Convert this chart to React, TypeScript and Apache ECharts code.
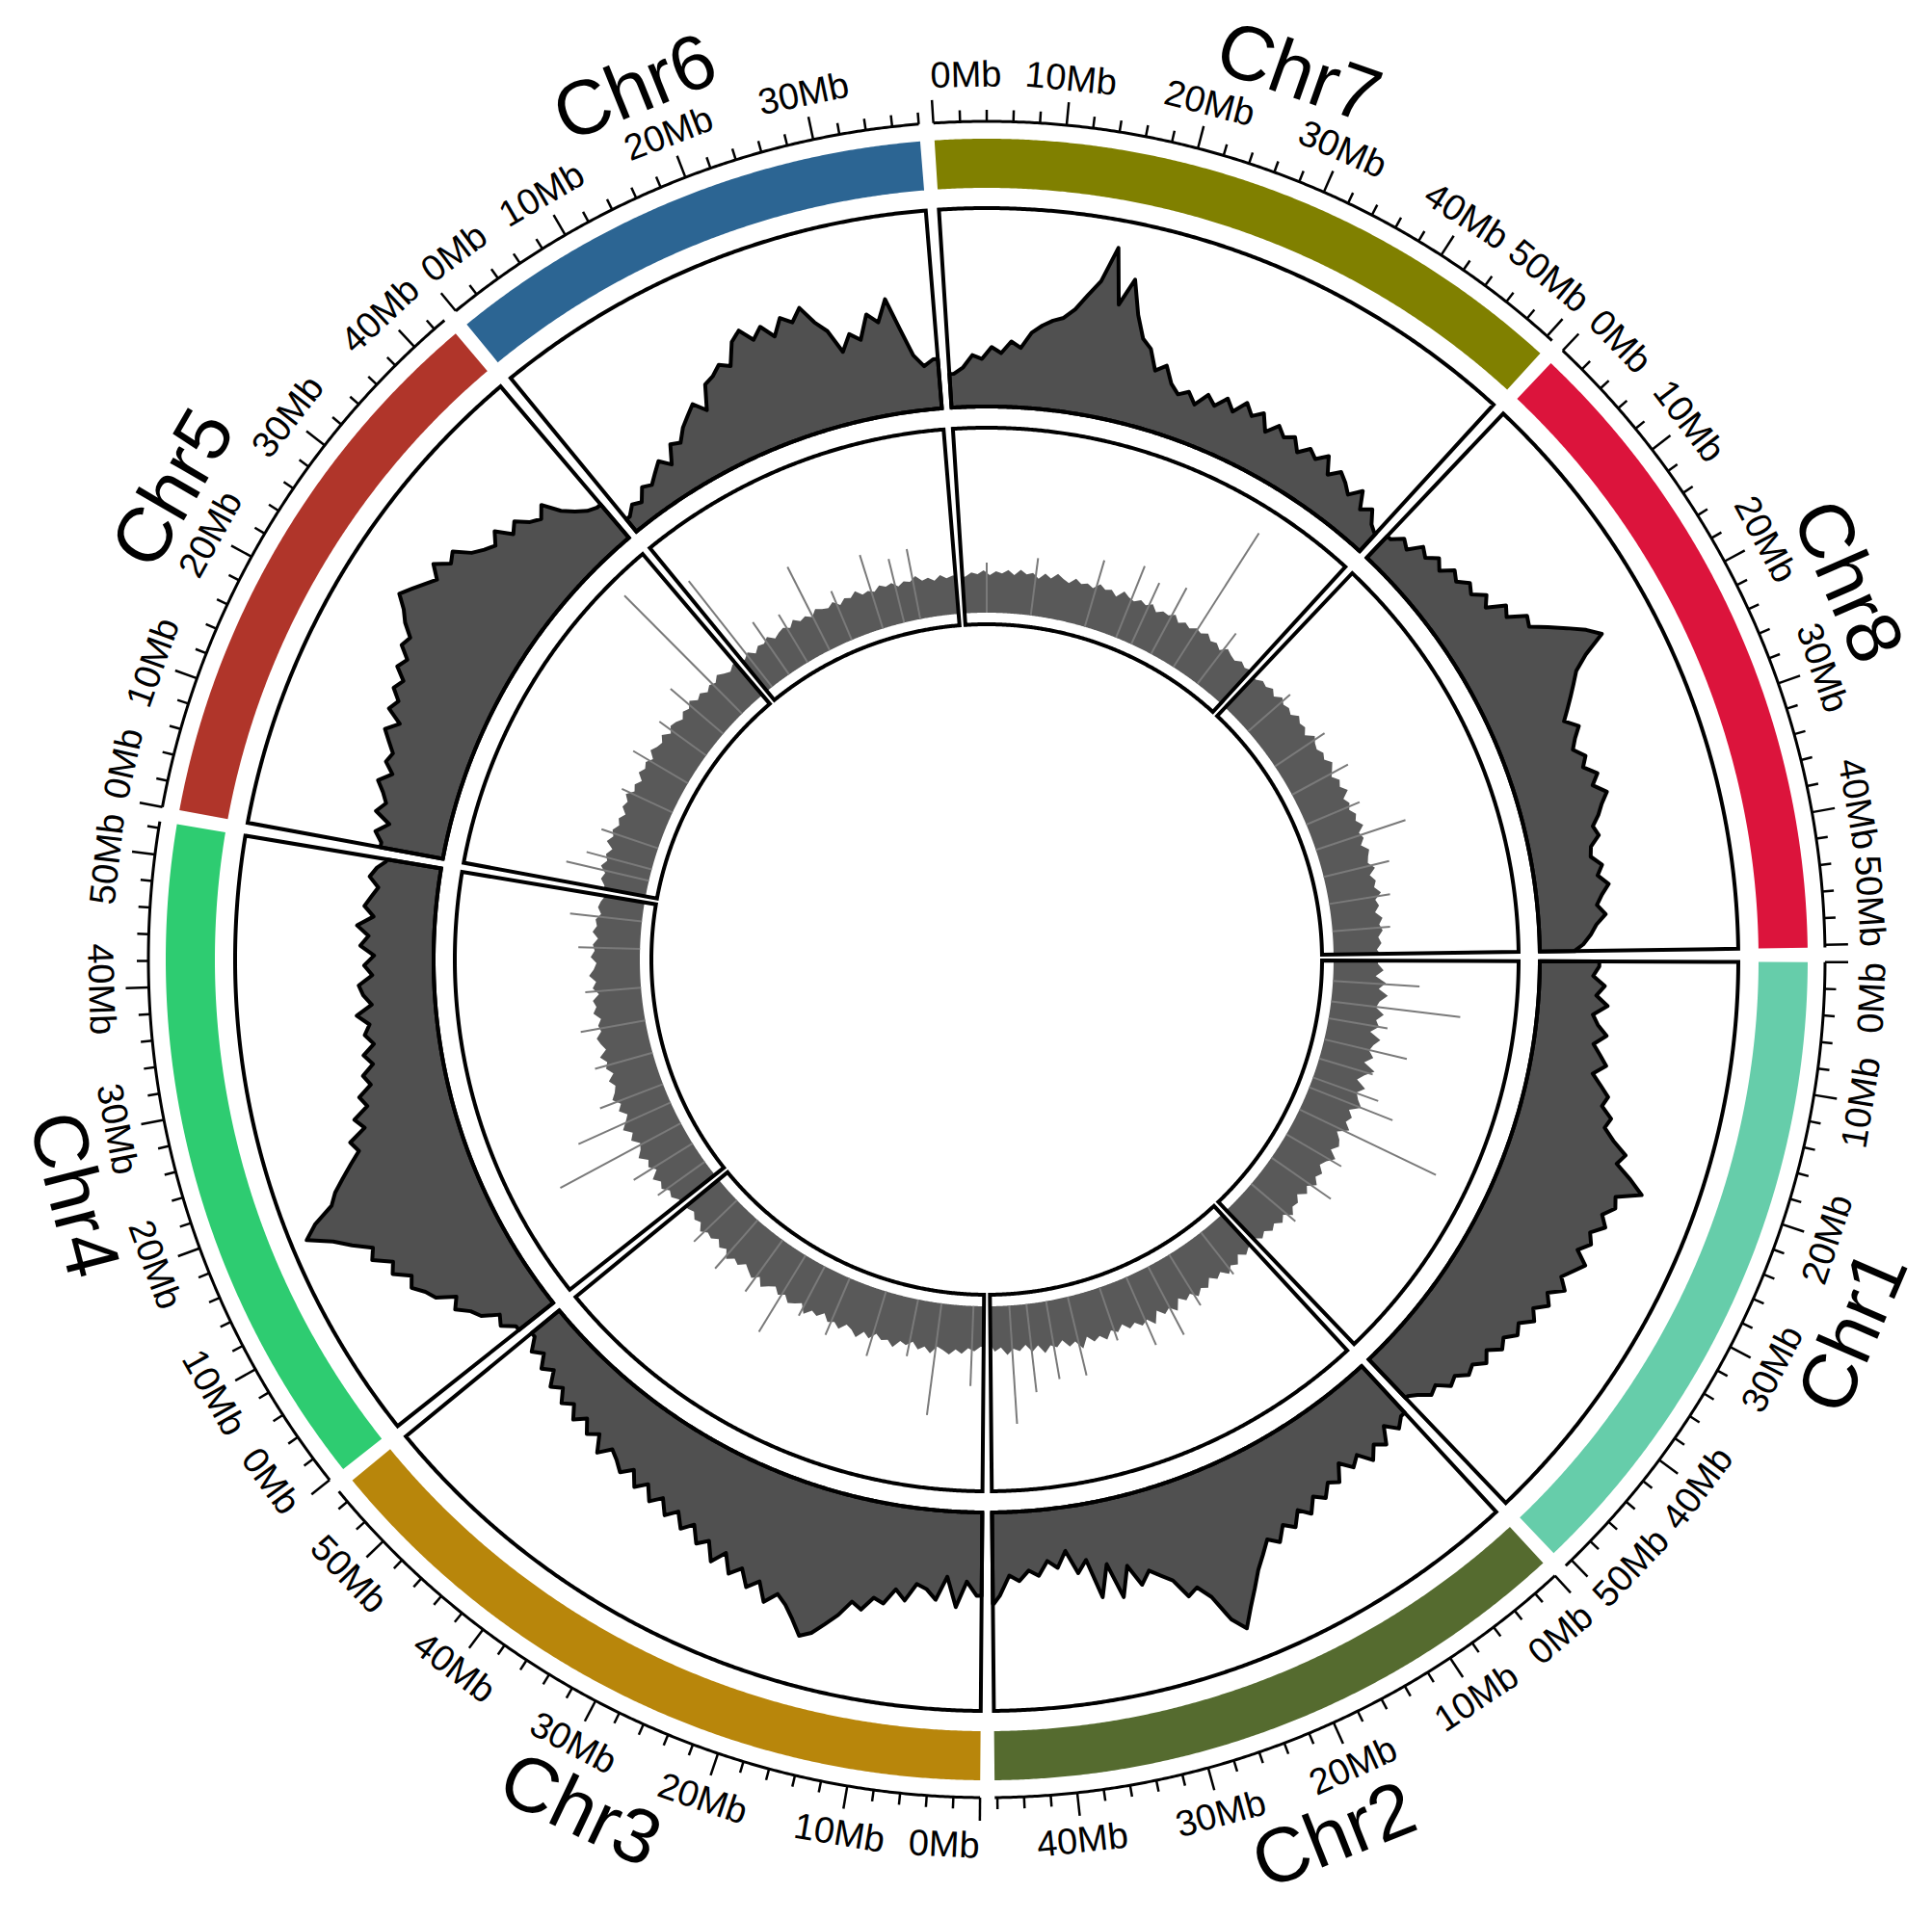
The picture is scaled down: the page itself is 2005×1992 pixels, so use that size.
import React, { useEffect, useRef } from "react";
import * as echarts from "echarts";

// ---------------- data ----------------
const CHR_NAMES = ["Chr1", "Chr2", "Chr3", "Chr4", "Chr5", "Chr6", "Chr7", "Chr8"];
const CHR_LENGTHS_MB = [50.6, 46.2, 55.0, 52.5, 43.0, 38.0, 50.5, 50.2];
const CHR_COLORS = ["#66CDAA", "#556B2F", "#B8860B", "#2ECC71", "#B0352A", "#2C6593", "#808000", "#DC143C"];

// outer track: density per 1 Mb bin (0-100)
const AREA_CHR1 = [30,27,33,29,35,28,31,36,30,34,38,32,37,42,40,46,44,50,58,55,64,72,60,62,57,61,55,58,53,60,56,52,57,50,54,48,52,46,49,44,47,41,45,40,42,37,39,33,35,30,27];
const AREA_CHR2 = [32,36,30,38,34,40,33,37,31,39,36,42,38,45,40,47,43,50,46,52,58,66,74,83,76,62,55,58,48,44,40,46,35,50,32,48,28,34,22,30,26,33,30,35,32,42,46];
const AREA_CHR3 = [42,35,48,33,45,40,38,47,42,50,48,55,52,60,66,72,75,68,62,58,64,55,60,52,57,48,55,46,50,42,47,40,45,38,43,36,41,34,39,35,32,38,30,34,28,33,27,31,25,29,22,26,20,24,18];
const AREA_CHR4 = [22,28,25,33,36,42,38,47,50,55,52,60,57,66,63,72,80,92,85,74,70,64,58,52,55,46,50,42,45,38,41,35,39,33,37,34,40,32,36,38,31,35,30,37,33,39,31,36,33,30,35,32,28];
const AREA_CHR5 = [32,36,30,38,34,37,41,35,40,38,42,46,40,48,45,50,47,53,50,56,54,60,64,70,66,62,58,64,57,60,52,48,45,50,42,46,40,37,42,33,28,24,22];
const AREA_CHR6 = [8,12,10,16,14,18,22,17,26,24,30,34,38,32,44,46,50,47,58,62,55,60,53,61,57,63,54,48,36,44,40,52,47,58,42,28,22,25];
const AREA_CHR7 = [17,20,26,24,30,27,33,30,38,42,45,47,52,60,68,86,58,72,55,44,40,30,34,26,22,25,20,27,23,29,24,31,26,30,22,28,24,27,21,26,23,28,20,25,22,18,24,16,20,14,12];
const AREA_CHR8 = [15,20,17,24,21,26,22,28,25,30,27,33,29,38,35,44,42,50,58,66,72,60,52,48,44,40,36,42,38,35,40,37,43,39,45,41,38,34,36,31,30,35,32,37,33,30,34,29,26,22,18];
const AREA_TRACK = [AREA_CHR1, AREA_CHR2, AREA_CHR3, AREA_CHR4, AREA_CHR5, AREA_CHR6, AREA_CHR7, AREA_CHR8];

// inner track: histogram per 1 Mb bin
const HIST_CHR1 = [46,52,44,55,48,58,50,47,56,49,53,45,57,51,48,54,46,59,50,44,55,48,52,58,47,53,49,56,45,51,54,48,57,50,46,53,49,55,47,52,44,50,48,54,46,51,45,49,43,47,42];
const HIST_CHR2 = [44,48,42,50,46,52,45,49,43,51,47,53,46,50,44,55,48,52,45,57,49,53,47,51,44,50,46,54,48,52,45,56,47,51,43,49,46,53,44,50,42,48,45,51,43,47,41];
const HIST_CHR3 = [42,47,44,50,46,52,48,45,53,47,51,44,49,46,54,48,50,45,52,47,55,49,46,53,48,51,44,50,47,54,45,49,52,46,50,44,48,53,45,51,47,43,49,46,52,44,48,42,47,45,50,43,46,41,44];
const HIST_CHR4 = [45,50,47,53,49,55,46,52,48,56,50,47,54,49,57,51,46,53,48,55,50,47,52,45,51,48,54,46,50,53,47,49,45,52,48,51,44,50,46,53,48,45,51,47,49,44,50,46,48,43,47,45,42];
const HIST_CHR5 = [44,49,46,52,47,50,45,53,48,51,46,49,44,50,47,52,45,48,43,50,46,49,44,51,47,45,50,43,48,46,42,47,44,49,43,46,41,45,42,47,43,40,44];
const HIST_CHR6 = [40,44,38,43,41,45,39,42,44,40,46,41,43,39,45,42,40,44,38,43,41,46,40,42,39,44,41,43,38,42,40,45,39,41,37,42,38,40];
const HIST_CHR7 = [38,42,40,44,39,43,41,45,40,46,42,44,39,45,41,47,43,40,46,42,44,41,47,43,45,40,48,44,42,46,43,47,41,45,44,48,42,46,43,47,45,49,44,46,42,48,45,43,47,44,46];
const HIST_CHR8 = [43,47,45,49,44,50,46,48,45,51,47,49,44,52,48,46,50,47,53,49,45,51,48,54,46,50,47,52,49,55,48,51,46,53,50,48,54,47,52,49,55,48,51,46,53,49,52,47,50,45,48];
const HIST_TRACK = [HIST_CHR1, HIST_CHR2, HIST_CHR3, HIST_CHR4, HIST_CHR5, HIST_CHR6, HIST_CHR7, HIST_CHR8];

// tall single bins of the inner histogram
const SPIKE_CHR = [0,0,0,0,0,0,0,0,0,0,0, 1,1,1,1,1,1,1,1,1, 2,2,2,2,2,2,2,2,2,2, 3,3,3,3,3,3,3,3,3,3, 4,4,4,4,4,4,4,4, 5,5,5,5,5,5,5,5, 6,6,6,6,6,6,6,6, 7,7,7,7,7,7,7,7];
const SPIKE_POS = [3.7,7.4,10.5,14.4,18,21.6,23.5,27.9,33,38,44, 5,12,16.4,20.8,26,32,36,39.6,42.7, 1.9,7.7,12,18,25,30,34,39,44.8,50, 3,7,11.2,15.4,19,25,31,37,44,49, 2.9,5,9,16,22,28,33,38, 1.2,5,9,13.6,18,24,28,31, 4,12,22,28,31,35,39.7,45, 6,14,20,26,30.9,36,41,46];
const SPIKE_VAL = [90,135,62,88,58,72,93,157,66,75,60, 55,62,80,77,58,84,82,92,123, 83,117,60,70,64,58,93,66,67,62, 60,72,142,105,70,62,68,58,64,75, 88,70,62,58,66,60,72,173, 140,66,58,97,55,80,68,74, 52,60,72,80,70,78,165,66, 58,62,66,60,98,70,64,60];

const TICK_STEP_MB = 2;
const TICK_LABEL_STEP_MB = 10;

// ---------------- layout ----------------
const GAP_MB = 1.1;
const FIRST_OFFSET_MB = 0.2;
const CX = 1024;
const CY = 996;
const R_HIST_BOX = [348, 552];
const R_AREA = [574, 780];
const R_BAND = [801, 852];
const R_AXIS = 870;
const R_TICKLABEL = 919;
const R_CHRLABEL = 977;
const TICK_FONT = 38;
const CHR_FONT = 80;
const FONT = "'Liberation Sans', Arial, Helvetica, sans-serif";

const STARTS: number[] = [];
{
  let acc = FIRST_OFFSET_MB;
  CHR_LENGTHS_MB.forEach((L) => {
    STARTS.push(acc);
    acc += L + GAP_MB;
  });
}
const TOTAL = CHR_LENGTHS_MB.reduce((a, b) => a + b, 0) + GAP_MB * CHR_LENGTHS_MB.length;
const RAD_PER_MB = (2 * Math.PI) / TOTAL;

const arc = (api: any, r: number, p0: number, p1: number) => {
  const n = Math.max(2, Math.ceil(Math.abs(p1 - p0) / 0.2));
  const pts: number[][] = [];
  for (let k = 0; k <= n; k++) pts.push(api.coord([r, p0 + ((p1 - p0) * k) / n]));
  return pts;
};

const charEm = (c: string) => (c === "M" ? 0.833 : 0.556);
const textWidth = (t: string, fs: number) => t.split("").reduce((a, c) => a + charEm(c), 0) * fs;

const textEl = (x: number, y: number, cx: number, cy: number, text: string, fs: number) => {
  const a = Math.atan2(y - cy, x - cx);
  const upper = y < cy;
  const dir = upper ? a + Math.PI / 2 : a - Math.PI / 2;
  return {
    type: "text",
    x,
    y,
    rotation: -dir,
    style: { text, fontSize: fs, fontFamily: FONT, fill: "#000", align: "center", verticalAlign: "middle" },
  };
};

const chrData = CHR_NAMES.map((_, i) => [0, STARTS[i]]);

const binCenter = (j: number, L: number) => (j + Math.min(j + 1, L)) / 2;

function buildOption() {
  const base = { type: "custom", silent: true, animation: false, clip: false };

  const bands = {
    ...base,
    coordinateSystem: "polar",
    polarIndex: 2,
    data: chrData,
    renderItem: (params: any, api: any) => {
      const i = params.dataIndex;
      const s = STARTS[i];
      const e = s + CHR_LENGTHS_MB[i];
      const pts = arc(api, R_BAND[1], s, e).concat(arc(api, R_BAND[0], s, e).reverse());
      return { type: "polygon", shape: { points: pts }, style: { fill: CHR_COLORS[i], stroke: null } };
    },
  };

  const area = {
    ...base,
    coordinateSystem: "polar",
    polarIndex: 0,
    data: chrData,
    renderItem: (params: any, api: any) => {
      const i = params.dataIndex;
      const s = STARTS[i];
      const L = CHR_LENGTHS_MB[i];
      const vals = AREA_TRACK[i];
      const top: number[][] = [api.coord([0, s]), api.coord([vals[0], s])];
      vals.forEach((v, j) => top.push(api.coord([v, s + binCenter(j, L)])));
      top.push(api.coord([vals[vals.length - 1], s + L]));
      top.push(api.coord([0, s + L]));
      const pts = top.concat(arc(api, 0, s, s + L).reverse());
      return {
        type: "polygon",
        shape: { points: pts },
        style: { fill: "#505050", stroke: "#000", lineWidth: 4, lineJoin: "round" },
      };
    },
  };

  const hist = {
    ...base,
    coordinateSystem: "polar",
    polarIndex: 1,
    data: chrData,
    renderItem: (params: any, api: any) => {
      const i = params.dataIndex;
      const s = STARTS[i];
      const L = CHR_LENGTHS_MB[i];
      const vals = HIST_TRACK[i];
      const top: number[][] = [api.coord([0, s]), api.coord([vals[0], s])];
      vals.forEach((v, j) => top.push(api.coord([v, s + binCenter(j, L)])));
      top.push(api.coord([vals[vals.length - 1], s + L]));
      top.push(api.coord([0, s + L]));
      const pts = top.concat(arc(api, 0, s, s + L).reverse());
      return { type: "polygon", shape: { points: pts }, style: { fill: "#595959", stroke: null } };
    },
  };

  const spikes = {
    ...base,
    coordinateSystem: "polar",
    polarIndex: 1,
    data: SPIKE_VAL.map((v, k) => [v, STARTS[SPIKE_CHR[k]] + SPIKE_POS[k]]),
    renderItem: (params: any, api: any) => {
      const v = api.value(0);
      const p = api.value(1);
      const a = api.coord([0, p]);
      const b = api.coord([v, p]);
      return {
        type: "line",
        shape: { x1: a[0], y1: a[1], x2: b[0], y2: b[1] },
        style: { stroke: "#7a7a7a", lineWidth: 2 },
      };
    },
  };

  const boxes = {
    ...base,
    coordinateSystem: "polar",
    polarIndex: 2,
    data: chrData,
    renderItem: (params: any, api: any) => {
      const i = params.dataIndex;
      const s = STARTS[i];
      const e = s + CHR_LENGTHS_MB[i];
      const mk = (r0: number, r1: number) => ({
        type: "polygon",
        shape: { points: arc(api, r1, s, e).concat(arc(api, r0, s, e).reverse()) },
        style: { fill: null, stroke: "#000", lineWidth: 4, lineJoin: "miter" },
      });
      return { type: "group", children: [mk(R_AREA[0], R_AREA[1]), mk(R_HIST_BOX[0], R_HIST_BOX[1])] };
    },
  };

  const axes = {
    ...base,
    coordinateSystem: "polar",
    polarIndex: 2,
    data: chrData,
    renderItem: (params: any, api: any) => {
      const i = params.dataIndex;
      const cx = params.coordSys.cx;
      const cy = params.coordSys.cy;
      const s = STARTS[i];
      const L = CHR_LENGTHS_MB[i];
      const children: any[] = [];
      children.push({
        type: "polyline",
        shape: { points: arc(api, R_AXIS, s, s + L) },
        style: { fill: null, stroke: "#000", lineWidth: 3 },
      });
      for (let p = 0; p <= L + 1e-6; p += TICK_STEP_MB) {
        const major = Math.abs(p % TICK_LABEL_STEP_MB) < 1e-6;
        const a = api.coord([R_AXIS, s + p]);
        const b = api.coord([R_AXIS + (major ? 24 : 12), s + p]);
        children.push({
          type: "line",
          shape: { x1: a[0], y1: a[1], x2: b[0], y2: b[1] },
          style: { stroke: "#000", lineWidth: 2.5 },
        });
      }
      for (let p = 0; p <= L + 1e-6; p += TICK_LABEL_STEP_MB) {
        const txt = `${p}Mb`;
        const wMb = textWidth(txt, TICK_FONT) / (R_TICKLABEL * RAD_PER_MB);
        let pc = p;
        if (pc - wMb / 2 < 0) pc = wMb / 2;
        if (pc + wMb / 2 > L) pc = L - wMb / 2;
        const pt = api.coord([R_TICKLABEL, s + pc]);
        children.push(textEl(pt[0], pt[1], cx, cy, txt, TICK_FONT));
      }
      const m = api.coord([R_CHRLABEL, s + L / 2]);
      children.push(textEl(m[0], m[1], cx, cy, CHR_NAMES[i], CHR_FONT));
      return { type: "group", children };
    },
  };

  const polarCfg = [
    { center: [CX, CY], radius: [R_AREA[0], R_AREA[1]] },
    { center: [CX, CY], radius: [360, 552] },
    { center: [CX, CY], radius: [0, 1000] },
  ];
  const hidden = {
    show: false,
    axisLine: { show: false },
    axisTick: { show: false },
    axisLabel: { show: false },
    splitLine: { show: false },
  };
  return {
    animation: false,
    backgroundColor: "#ffffff",
    polar: polarCfg,
    angleAxis: polarCfg.map((_, k) => ({
      polarIndex: k,
      type: "value",
      min: 0,
      max: TOTAL,
      startAngle: 0,
      clockwise: true,
      ...hidden,
    })),
    radiusAxis: [
      { polarIndex: 0, type: "value", min: 0, max: 100, ...hidden },
      { polarIndex: 1, type: "value", min: 0, max: 192, ...hidden },
      { polarIndex: 2, type: "value", min: 0, max: 1000, ...hidden },
    ],
    series: [bands, area, hist, spikes, boxes, axes],
  };
}

export default function App() {
  const ref = useRef<HTMLDivElement>(null);
  useEffect(() => {
    document.body.style.margin = "0";
    const chart = echarts.init(ref.current as HTMLDivElement, null, { renderer: "svg" });
    chart.setOption(buildOption() as any);
    return () => chart.dispose();
  }, []);
  return <div ref={ref} style={{ width: 2005, height: 1992, background: "#fff" }} />;
}
